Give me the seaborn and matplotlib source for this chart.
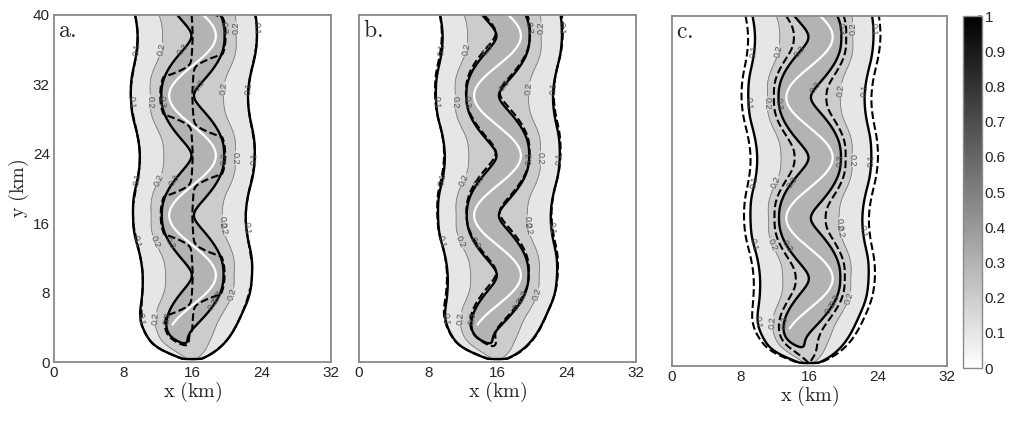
import numpy as np
import pandas as pd
import matplotlib
matplotlib.use("Agg")
import matplotlib.pyplot as plt
import seaborn as sns
from matplotlib.cm import ScalarMappable
from matplotlib.colors import Normalize

# ---------------- data ----------------
panel_labels = ["a.", "b.", "c."]
x_ticks = [0, 8, 16, 24, 32]
y_ticks = [0, 8, 16, 24, 32, 40]
cbar_ticks = [0, 0.1, 0.2, 0.3, 0.4, 0.5, 0.6, 0.7, 0.8, 0.9, 1.0]
cbar_ticklabels = ["0", "0.1", "0.2", "0.3", "0.4", "0.5", "0.6", "0.7", "0.8", "0.9", "1"]
fill_levels = [0.0, 0.1, 0.2, 0.3, 0.4, 1.0]
line_levels = [0.1, 0.2, 0.3]
bold_levels = [0.1, 0.3]
label_rows = [5, 13, 21, 29, 36]          # y (km) where contour labels sit

# plume (solid model) parameters, km
source_x = 16.0
halo_center_x = 16.1
meander_wavelength = 13.8
meander_crest_y = 10.0
centerline_amp = 2.7
core_amp = 2.45
halo_amp = 0.45
core_width = 1.35
halo_width = 4.28
core_weight = 0.11
halo_weight = 0.285
halo_source_deficit = 0.12
growth_length = 2.2
core_onset_y = 2.6
centerline_start_y = 4.3

# comparison (dashed) model parameters per panel
dash_core_weight = [0.125, 0.11, 0.11]
dash_halo_weight = [0.285, 0.287, 0.335]
dash_core_width = [1.35, 1.37, 1.4]
dash_halo_width = [4.28, 4.32, 4.45]
dash_shift = [0.0, 0.35, 0.0]
dash_split = [True, False, False]

# ---------------- model field ----------------
K = 2 * np.pi / meander_wavelength


def centerline(y, amp, shift=0.0):
    return source_x + amp * np.cos(K * (y - meander_crest_y - shift))


def plume(X, Y, cw, hw, ca, ha, shift=0.0, split=False):
    phase = K * (Y - meander_crest_y - shift)
    xn = source_x + core_amp * np.cos(phase)
    slope = -core_amp * K * np.sin(phase)
    xh = halo_center_x + halo_amp * np.cos(phase)
    grow = np.clip(1 - np.exp(-Y / growth_length), 1e-6, None) ** 0.9 * (1 + 0.003 * Y)
    onset = 1 - np.exp(-(Y / core_onset_y) ** 2)
    dperp2 = (X - xn) ** 2 / (1 + 1.3 * slope ** 2)
    core = ca * onset * np.exp(-dperp2 / (2 * cw ** 2))
    halo_peak = ha * (1 - halo_source_deficit * np.exp(-Y / 3.0))
    halo = halo_peak * np.exp(-(X - xh) ** 2 / (2 * (hw * grow) ** 2))
    if split:
        ys = Y - 0.4 * slope * (X - source_x)
        xs = source_x + core_amp * np.cos(K * (ys - meander_crest_y - shift))
        side = 0.5 + 0.5 * np.tanh(8 * (X - source_x) * (xs - source_x))
        core = core * side
    c = (core + halo) * (Y > 0.35)
    return c


xg = np.linspace(0, 32, 420)
yg = np.linspace(0, 40, 520)
X, Y = np.meshgrid(xg, yg)
field = plume(X, Y, core_width, halo_width, core_weight, halo_weight)

# ---------------- figure ----------------
sns.set_theme(style="white")
plt.rcParams["font.family"] = ["Liberation Sans", "DejaVu Sans"]
plt.rcParams["mathtext.fontset"] = "cm"

fig = plt.figure(figsize=(10.24, 4.29), dpi=100)
positions = [
    [54 / 1024, 1 - 362 / 429, 277 / 1024, 347 / 429],
    [359 / 1024, 1 - 362 / 429, 277 / 1024, 347 / 429],
    [672 / 1024, 1 - 366 / 429, 275 / 1024, 350 / 429],
]
cmap = plt.get_cmap("gray_r")
fill_colors = [cmap(v) for v in fill_levels[:-1]]
frame_color = "#8a8a8a"

for i, pos in enumerate(positions):
    ax = fig.add_axes(pos)
    ax.contourf(X, Y, field, levels=fill_levels, colors=fill_colors)
    thin = ax.contour(X, Y, field, levels=line_levels, colors="#7a7a7a", linewidths=0.6)
    manual = []
    for j, yr in enumerate(label_rows):
        row = field[np.argmin(np.abs(yg - yr))]
        for lv in line_levels:
            idx = np.where(np.diff(np.sign(row - lv)) != 0)[0]
            if len(idx) >= 2:
                manual.append((xg[idx[0]], yr + (j % 2)))
                manual.append((xg[idx[-1]], yr + 2.5))
    ax.clabel(thin, levels=line_levels, manual=manual, fontsize=6.5, fmt="%.1f",
              colors="#505050", inline=True, inline_spacing=1)
    ax.contour(X, Y, field, levels=bold_levels, colors="black", linewidths=1.7)
    f2 = plume(X, Y, dash_core_width[i], dash_halo_width[i], dash_core_weight[i],
               dash_halo_weight[i], shift=dash_shift[i], split=dash_split[i])
    ax.contour(X, Y, f2, levels=bold_levels, colors="black", linewidths=1.5,
               linestyles="--")
    # white centerline
    yl = np.linspace(centerline_start_y, 40, 300)
    df = pd.DataFrame({"x": centerline(yl, centerline_amp), "y": yl})
    sns.lineplot(data=df, x="x", y="y", sort=False, color="white", lw=1.6, ax=ax,
                 legend=False, estimator=None)

    ax.set_xlim(0, 32)
    ax.set_ylim(0, 40)
    ax.set_xticks(x_ticks)
    ax.set_yticks(y_ticks)
    ax.tick_params(direction="in", length=3, top=True, right=True, color=frame_color,
                   labelsize=11, pad=3, bottom=True, left=True)
    ax.set_xticklabels([str(t) for t in x_ticks])
    if i == 0:
        ax.set_yticklabels([str(t) for t in y_ticks])
        ax.set_ylabel(r"$\mathrm{y\ (km)}$", fontsize=14.5, labelpad=1)
    else:
        ax.set_yticklabels([])
        ax.set_ylabel("")
    ax.set_xlabel(r"$\mathrm{x\ (km)}$", fontsize=14.5, labelpad=0)
    for s in ax.spines.values():
        s.set_color(frame_color)
        s.set_linewidth(1.3)
    ax.text(0.015, 0.985, r"$\mathrm{%s}$" % panel_labels[i], transform=ax.transAxes,
            fontsize=17, va="top", ha="left")

cax = fig.add_axes([963 / 1024, 1 - 368 / 429, 19 / 1024, 352 / 429])
sm = ScalarMappable(norm=Normalize(0, 1), cmap=cmap)
cb = fig.colorbar(sm, cax=cax, ticks=cbar_ticks)
cb.ax.set_yticklabels(cbar_ticklabels)
cb.ax.tick_params(labelsize=11, length=3, direction="in", color=frame_color, pad=2)
cb.outline.set_edgecolor(frame_color)
cb.outline.set_linewidth(1.0)

fig.savefig("out.png", dpi=100)
